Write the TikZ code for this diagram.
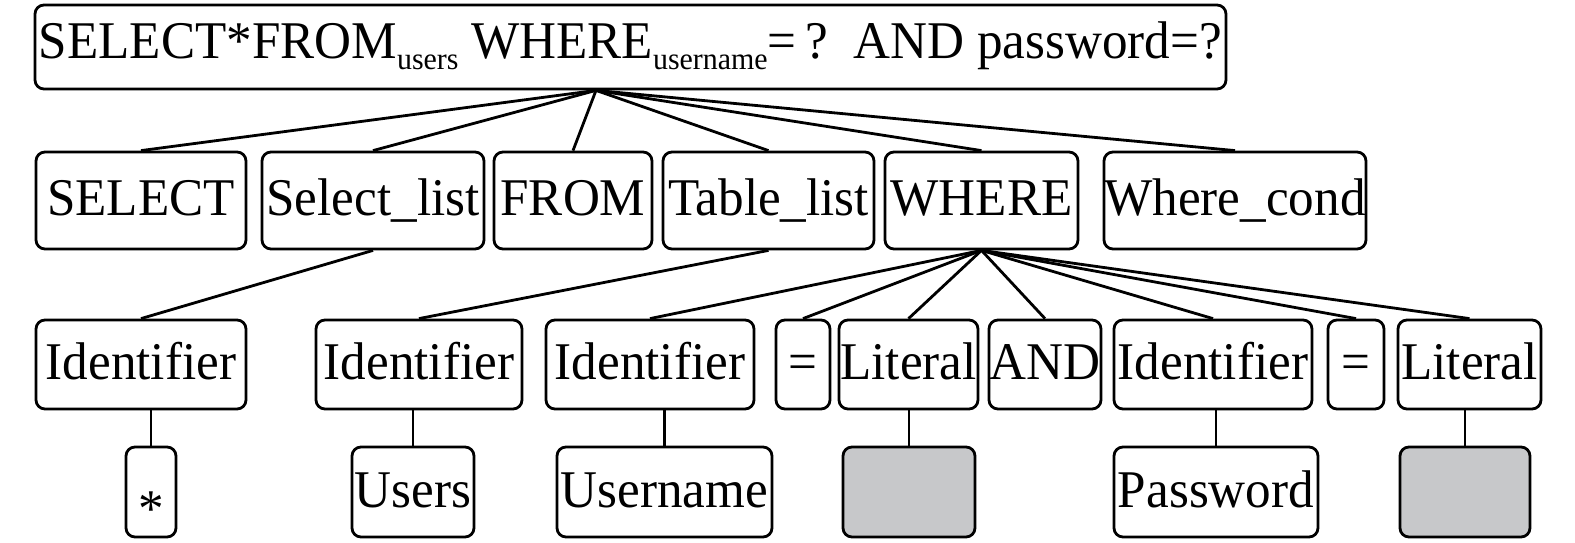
\documentclass[tikz,border=0pt]{standalone}
\usepackage{fontspec}
\setmainfont{Liberation Serif}[FakeStretch=0.965]
\definecolor{boxgray}{RGB}{199,200,202}
\newcommand\subtxt[1]{\raisebox{-11pt}{\fontsize{31}{31}\selectfont #1}}
\newcommand\bx[7][]{\node[box,minimum width={#5-#3},minimum height={#6-#4},#1] (#2) at ({(#3+#5)/2},{(#4+#6)/2}) {#7};}
\begin{document}
\begin{tikzpicture}[x=1pt,y=-1pt,
  box/.style={draw, line width=2.8pt, rounded corners=9pt, inner sep=0pt,
    text height=40pt, text depth=10pt, font=\fontsize{53}{60}\selectfont, fill=white},
  link/.style={line width=2.8pt}]
\useasboundingbox (0,0) rectangle (1575,543);
% root
\bx[text height=38pt, text depth=14pt]{root}{35}{5}{1226}{89}{SELECT*FROM\subtxt{users} WHERE\subtxt{username}=\,?\ \ AND password=?}
% row 2
\bx{sel}{36}{152}{246}{249}{SELECT}
\bx{sl}{262}{152}{484}{249}{Select\_list}
\bx{from}{494}{152}{652}{249}{FROM}
\bx{tl}{663}{152}{874}{249}{Table\_list}
\bx{wh}{885}{152}{1078}{249}{WHERE}
\bx{wc}{1104}{152}{1366}{249}{Where\_cond}
% row 3
\bx{ida}{36}{320}{246}{409}{Identifier}
\bx{idb}{316}{320}{522}{409}{Identifier}
\bx{idc}{546}{320}{754}{409}{Identifier}
\bx{eqa}{776}{320}{830}{409}{=}
\bx{lita}{839}{320}{978}{409}{Literal}
\bx{and}{989}{320}{1101}{409}{AND}
\bx{idd}{1114}{320}{1312}{409}{Identifier}
\bx{eqb}{1328}{320}{1384}{409}{=}
\bx{litb}{1398}{320}{1541}{409}{Literal}
% row 4
\bx{star}{126}{447}{176}{537}{\raisebox{-19pt}{*}}
\bx{users}{352}{447}{474}{537}{Users}
\bx{uname}{557}{447}{772}{537}{Username}
\bx[fill=boxgray]{ga}{843}{447}{975}{537}{}
\bx{pw}{1114}{447}{1318}{537}{Password}
\bx[fill=boxgray]{gb}{1400}{447}{1530}{537}{}
% connectors
\coordinate (rx) at (596,0);
\coordinate (rb) at (root.south -| rx);
\foreach \n in {sel,sl,from,tl,wh,wc} \draw[link] (rb) -- (\n.north);
\draw[link] (sl.south) -- (ida.north);
\draw[link] (tl.south) -- (idb.north);
\foreach \n in {idc,eqa,lita,and,idd,eqb,litb} \draw[link] (wh.south) -- (\n.north);
\draw[link] (star.north) -- (star.north |- ida.south);
\draw[link] (users.north) -- (users.north |- idb.south);
\draw[link] (uname.north) -- (uname.north |- idc.south);
\draw[link] (ga.north) -- (ga.north |- lita.south);
\draw[link] (pw.north) -- (pw.north |- idd.south);
\draw[link] (gb.north) -- (gb.north |- litb.south);
\end{tikzpicture}
\end{document}
